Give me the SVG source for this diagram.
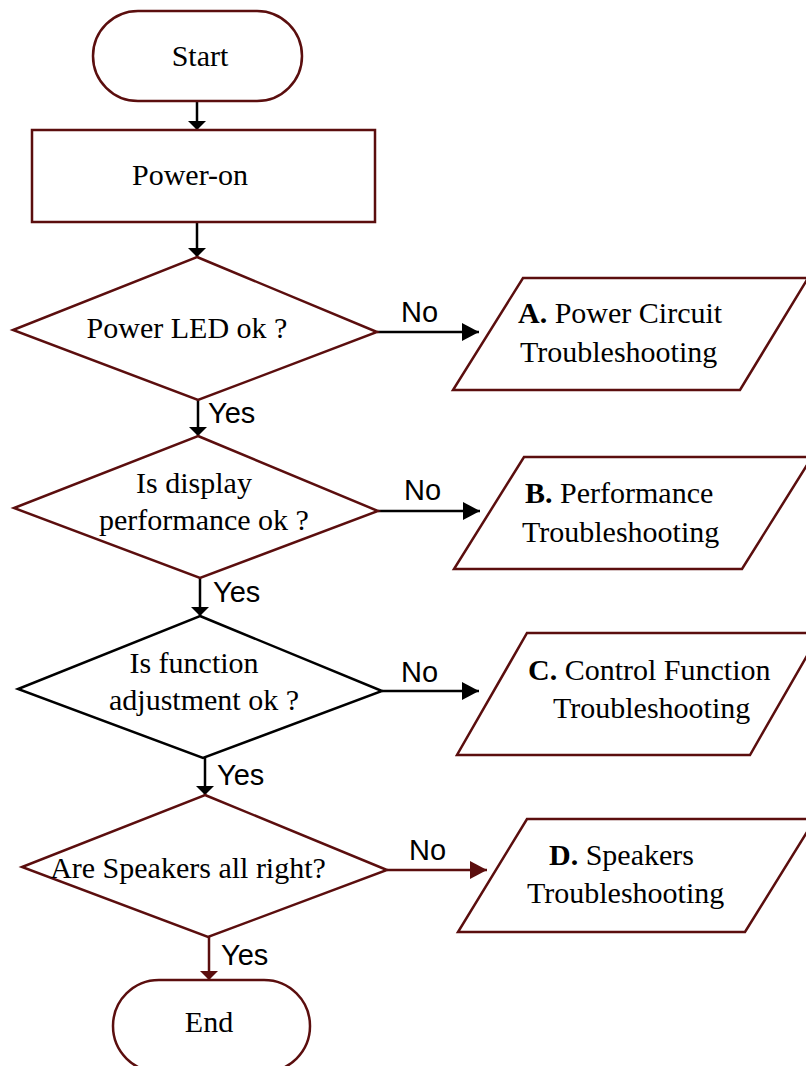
<svg xmlns="http://www.w3.org/2000/svg" width="806" height="1066" viewBox="0 0 806 1066">
<style>
.n{fill:#fff;stroke:#5b0e0e;stroke-width:2.5}
.nk{fill:#fff;stroke:#000;stroke-width:2.5}
.t{font-family:"Liberation Serif","Times New Roman",serif;font-size:30px;fill:#000}
.c{text-anchor:middle}
.l{font-family:"Liberation Sans",Arial,sans-serif;font-size:29px;fill:#000}
.e{fill:none;stroke:#000;stroke-width:2.5}
.er{fill:none;stroke:#5b0e0e;stroke-width:2.5}
.b{font-weight:bold}
</style>
<defs>
<marker id="ah" markerUnits="userSpaceOnUse" markerWidth="18" markerHeight="20" refX="17" refY="9" orient="auto"><path d="M0,0 L17,9 L0,18 z" fill="#000"/></marker>
<marker id="ahr" markerUnits="userSpaceOnUse" markerWidth="18" markerHeight="20" refX="17" refY="9" orient="auto"><path d="M0,0 L17,9 L0,18 z" fill="#5b0e0e"/></marker>
<marker id="av" markerUnits="userSpaceOnUse" markerWidth="10" markerHeight="20" refX="9" refY="9" orient="auto"><path d="M0,0 L9,9 L0,18 z" fill="#000"/></marker>
<marker id="avr" markerUnits="userSpaceOnUse" markerWidth="10" markerHeight="20" refX="9" refY="9" orient="auto"><path d="M0,0 L9,9 L0,18 z" fill="#5b0e0e"/></marker>
</defs>
<g id="connectors">
<line class="e" x1="197" y1="101" x2="197" y2="130" marker-end="url(#av)"/>
<line class="e" x1="197" y1="222" x2="197" y2="257" marker-end="url(#av)"/>
<line class="e" x1="198" y1="400" x2="198" y2="436" marker-end="url(#av)"/>
<line class="e" x1="200" y1="578" x2="200" y2="616" marker-end="url(#av)"/>
<line class="e" x1="205" y1="758" x2="205" y2="795" marker-end="url(#av)"/>
<line class="er" x1="209" y1="937" x2="209" y2="980" marker-end="url(#avr)"/>
<line class="e" x1="377" y1="332" x2="479" y2="332" marker-end="url(#ah)"/>
<line class="e" x1="378" y1="511" x2="480" y2="511" marker-end="url(#ah)"/>
<line class="e" x1="382" y1="691" x2="479" y2="691" marker-end="url(#ah)"/>
<line class="er" x1="387" y1="870" x2="487" y2="870" marker-end="url(#ahr)"/>
<text class="l" x="208" y="423">Yes</text>
<text class="l" x="213" y="602">Yes</text>
<text class="l" x="217" y="785">Yes</text>
<text class="l" x="221" y="965">Yes</text>
<text class="l" x="401" y="322">No</text>
<text class="l" x="404" y="500">No</text>
<text class="l" x="401" y="682">No</text>
<text class="l" x="409" y="860">No</text>
</g>
<g id="start">
<rect class="n" x="93" y="11" width="209" height="90" rx="45" ry="45"/>
<text class="t c" x="200" y="66">Start</text>
</g>
<g id="power-on">
<rect class="n" x="32" y="130" width="343" height="92"/>
<text class="t c" x="190" y="185">Power-on</text>
</g>
<g id="d1">
<polygon class="n" points="197,257 377,332 198,400 13,330"/>
<text class="t c" x="187" y="338">Power LED ok ?</text>
</g>
<g id="d2">
<polygon class="n" points="198,436 378,511 200,578 14,508"/>
<text class="t c" x="194" y="493">Is display</text>
<text class="t c" x="204" y="530">performance ok ?</text>
</g>
<g id="d3">
<polygon class="nk" points="200,616 382,691 203,758 18,689"/>
<text class="t c" x="194" y="673">Is function</text>
<text class="t c" x="204" y="710">adjustment ok ?</text>
</g>
<g id="d4">
<polygon class="n" points="205,795 387,870 208,937 22,867"/>
<text class="t c" x="188" y="878">Are Speakers all right?</text>
</g>
<g id="end">
<rect class="n" x="113" y="980" width="197" height="92" rx="46" ry="46"/>
<text class="t c" x="209" y="1032">End</text>
</g>
<g id="a">
<polygon class="n" points="523,278 808,278 740,390 453,390"/>
<text class="t" x="518" y="323"><tspan class="b">A.</tspan> Power Circuit</text>
<text class="t" x="520" y="362">Troubleshooting</text>
</g>
<g id="b">
<polygon class="n" points="524,457 812,457 742,569 454,569"/>
<text class="t" x="525" y="503"><tspan class="b">B.</tspan> Performance</text>
<text class="t" x="522" y="542">Troubleshooting</text>
</g>
<g id="c">
<polygon class="n" points="527,633 820,633 750,755 457,755"/>
<text class="t" x="528" y="680"><tspan class="b">C.</tspan> Control Function</text>
<text class="t" x="553" y="718">Troubleshooting</text>
</g>
<g id="dd">
<polygon class="n" points="527,819 815,819 745,932 458,932"/>
<text class="t" x="549" y="865"><tspan class="b">D.</tspan> Speakers</text>
<text class="t" x="527" y="903">Troubleshooting</text>
</g>
</svg>
